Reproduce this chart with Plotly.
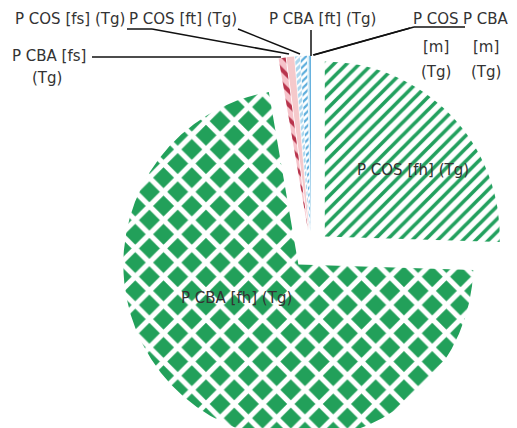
import plotly.graph_objects as go

# ---- data ----
labels = ["P COS [fh] (Tg)", "P CBA [fh] (Tg)", "P CBA [fs] (Tg)", "P COS [fs] (Tg)",
          "P COS [ft] (Tg)", "P CBA [ft] (Tg)", "P COS [m] (Tg)", "P CBA [m] (Tg)"]
values = [25.5, 71.8, 0.65, 0.7, 0.45, 0.6, 0.15, 0.15]

# ---- styles ----
shapes = ["/", "x", "\\", "", "/", "/", "", ""]
fg = ["#22a05e", "#ffffff", "#b8344c", "#f5c9cb", "#ffffff", "#5eaedc", "#d8eef8", "#5eaedc"]
bg = ["#ffffff", "#22a05a", "#f6c3ca", "#f5c9cb", "#a9d6ee", "#ffffff", "#d8eef8", "#5eaedc"]
psize = [9, 20, 10, 8, 5, 5, 8, 8]
psol = [0.4, 0.45, 0.4, 0.3, 0.4, 0.45, 0.3, 0.3]

# page has an 8px body margin; figure may overflow the 517x428 window (clipped)
OFF = 8
W, H = 509, 445


def px(x, y):
    """page pixel -> paper fraction"""
    return (x - OFF) / W, 1 - (y - OFF) / H


PULL = 0.11
cx, cy, rad = 311, 250, 175
half = rad * (1 + PULL)
x0, _ = px(cx - half, 0)
x1, _ = px(cx + half, 0)
_, y1 = px(0, cy - half)
_, y0 = px(0, cy + half)

fig = go.Figure(go.Pie(
    labels=labels, values=values, sort=False, direction="clockwise", rotation=0,
    pull=[PULL] * len(values), textinfo="none", hoverinfo="label+value",
    showlegend=False,
    domain=dict(x=[x0, x1], y=[y0, y1]),
    marker=dict(colors=bg, line=dict(width=0),
                pattern=dict(shape=shapes, fgcolor=fg, bgcolor=bg, size=psize,
                             solidity=psol, fillmode="replace")),
))

font = dict(family="DejaVu Sans", size=15, color="#333333")
texts = [
    ("P COS [fs] (Tg)", 70, 19),
    ("P COS [ft] (Tg)", 183, 19),
    ("P CBA [ft] (Tg)", 322, 19),
    ("P COS", 436, 19), ("[m]", 436, 47), ("(Tg)", 436, 72),
    ("P CBA", 486, 19), ("[m]", 486, 47), ("(Tg)", 486, 72),
    ("P CBA [fs]", 49, 56), ("(Tg)", 47, 78),
    ("P COS [fh] (Tg)", 413, 170),
    ("P CBA [fh] (Tg)", 236, 298),
]
anns = []
for t, x, y in texts:
    ax, ay = px(x, y)
    anns.append(dict(text=t, x=ax, y=ay, xref="paper", yref="paper",
                     showarrow=False, font=font, xanchor="center", yanchor="middle"))

leaders = [
    [(92, 57), (281, 57)],
    [(127, 29), (152, 29), (289, 54)],
    [(238, 29), (300, 54)],
    [(311, 30), (311, 56)],
    [(410, 28), (313, 55)],
    [(465, 27), (414, 27), (314, 55)],
]
shp = []
for pts in leaders:
    for (xa, ya), (xb, yb) in zip(pts[:-1], pts[1:]):
        a0, b0 = px(xa, ya)
        a1, b1 = px(xb, yb)
        shp.append(dict(type="line", xref="paper", yref="paper", x0=a0, y0=b0,
                        x1=a1, y1=b1, line=dict(color="#111111", width=1.5)))

fig.update_layout(width=W, height=H, margin=dict(l=0, r=0, t=0, b=0),
                  paper_bgcolor="white", plot_bgcolor="white",
                  annotations=anns, shapes=shp)
fig.write_html("out.html")
